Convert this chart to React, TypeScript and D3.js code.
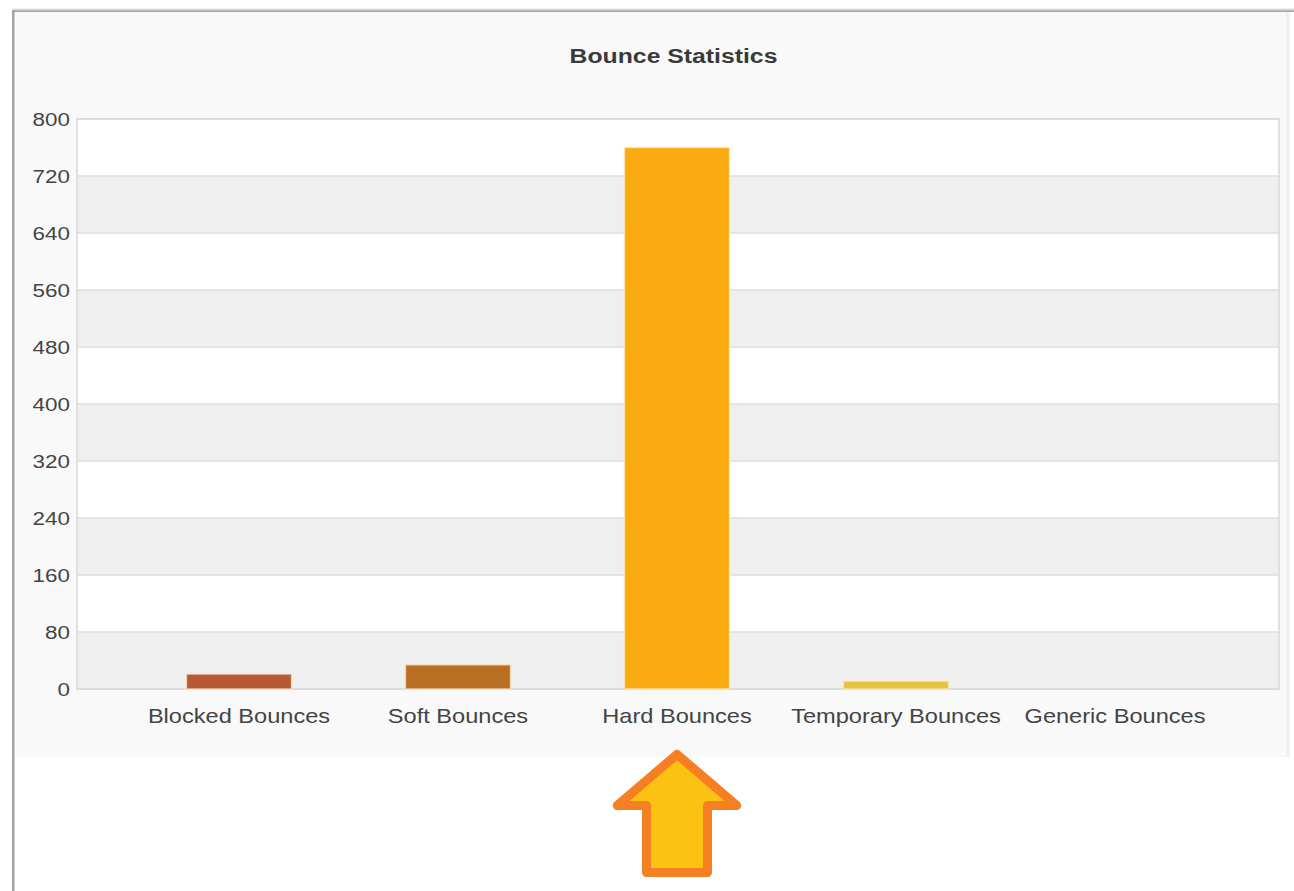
import React from "react";
import * as d3 from "d3";

const categories = ["Blocked Bounces", "Soft Bounces", "Hard Bounces", "Temporary Bounces", "Generic Bounces"];
const values = [21, 34, 760, 11, 0];
const barColors = ["#b65a35", "#b86e23", "#fbab12", "#e8c23f", "#f2a33a"];
const yTicks = [0, 80, 160, 240, 320, 400, 480, 560, 640, 720, 800];
const title = "Bounce Statistics";
const highlighted = "Hard Bounces";

const W = 1294;
const H = 891;
const plot = { left: 77, right: 1279, top: 119, bottom: 689 };
const SX = 1.18; // horizontal stretch of the text in the reference

export default function App() {
  const y = d3.scaleLinear().domain([0, 800]).range([plot.bottom, plot.top]);
  const x = d3
    .scaleBand<string>()
    .domain(categories)
    .range([129.5, 1224.5])
    .paddingInner(0.52)
    .paddingOuter(0.26);

  const bands = yTicks.slice(0, -1).map((t, i) => ({ t0: t, t1: yTicks[i + 1], i }));
  const hx = (x(highlighted) ?? 0) + x.bandwidth() / 2;
  const s = 4.5;
  const tipY = 748 + s * 1.4;
  const headY = 810 - s;
  const baseY = 877 - s;
  const headHalf = 66 - s * 1.4;
  const shaftHalf = 35 - s;
  const arrowPath = d3.path();
  arrowPath.moveTo(hx, tipY);
  arrowPath.lineTo(hx + headHalf, headY);
  arrowPath.lineTo(hx + shaftHalf, headY);
  arrowPath.lineTo(hx + shaftHalf, baseY);
  arrowPath.lineTo(hx - shaftHalf, baseY);
  arrowPath.lineTo(hx - shaftHalf, headY);
  arrowPath.lineTo(hx - headHalf, headY);
  arrowPath.closePath();

  return (
    <svg
      width={W}
      height={H}
      style={{ position: "fixed", left: 0, top: 0, display: "block" }}
      fontFamily="'Liberation Sans', Arial, sans-serif"
    >
      <defs>
        <linearGradient id="topShadow" x1="0" y1="0" x2="0" y2="1">
          <stop offset="0" stopColor="#ffffff" />
          <stop offset="0.5" stopColor="#c8c8c8" />
          <stop offset="1" stopColor="#9a9a9a" />
        </linearGradient>
      </defs>
      <rect x={0} y={0} width={W} height={H} fill="#ffffff" />
      <rect x={13} y={12} width={1277} height={745} fill="#f9f9f9" />
      <rect x={13} y={8} width={W - 13} height={4} fill="url(#topShadow)" />
      <rect x={12} y={10} width={2.5} height={H - 10} fill="#a3a3a3" />
      <rect x={1286} y={12} width={4} height={745} fill="#f1f1f1" />

      <g transform={`translate(673.5,63) scale(${SX},1)`}>
        <text x={0} y={0} textAnchor="middle" fontSize={21} fontWeight="bold" fill="#3a3a3a">
          {title}
        </text>
      </g>

      {bands.map((b) => (
        <rect
          key={b.t0}
          x={plot.left}
          y={y(b.t1)}
          width={plot.right - plot.left}
          height={y(b.t0) - y(b.t1)}
          fill={b.i % 2 === 0 ? "#efefef" : "#ffffff"}
        />
      ))}
      {yTicks.map((t) => (
        <line key={t} x1={plot.left} x2={plot.right} y1={y(t)} y2={y(t)} stroke="#dedede" strokeWidth={1.5} />
      ))}
      <rect
        x={plot.left}
        y={plot.top}
        width={plot.right - plot.left}
        height={plot.bottom - plot.top}
        fill="none"
        stroke="#d9d9d9"
        strokeWidth={1.5}
      />

      {categories.map((c, i) => {
        const v = values[i];
        if (v <= 0) return null;
        return (
          <rect
            key={c}
            x={x(c)}
            y={y(v)}
            width={x.bandwidth()}
            height={y(0) - y(v)}
            fill={barColors[i]}
            stroke="#ffe9c8"
            strokeOpacity={0.7}
            strokeWidth={1.5}
          />
        );
      })}

      {yTicks.map((t) => (
        <g key={t} transform={`translate(70,${y(t)}) scale(${SX},1)`}>
          <text x={0} y={0} dy="0.35em" textAnchor="end" fontSize={19} fill="#444">
            {t}
          </text>
        </g>
      ))}

      {categories.map((c) => (
        <g key={c} transform={`translate(${(x(c) ?? 0) + x.bandwidth() / 2},723) scale(${SX},1)`}>
          <text x={0} y={0} textAnchor="middle" fontSize={20} fill="#444">
            {c}
          </text>
        </g>
      ))}

      <path
        d={arrowPath.toString()}
        fill="#fcc212"
        stroke="#f57f22"
        strokeWidth={9}
        strokeLinejoin="round"
      />
    </svg>
  );
}
